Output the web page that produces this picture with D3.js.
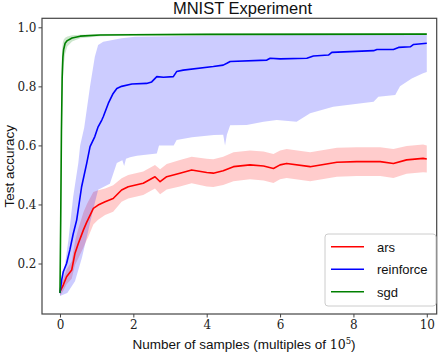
<!DOCTYPE html>
<html lang="en">
<head>
<meta charset="UTF-8">
<script src="https://d3js.org/d3.v7.min.js"></script>
<style>
  body { margin: 0; background: #fff; }
  svg { display: block; }
  .tick text { font-family: "DejaVu Serif", serif; font-size: 12px; fill: #222; }
  .tick line { stroke: #444; }
  .lab { font-family: "Liberation Sans", Arial, sans-serif; fill: #111; }
</style>
</head>
<body>
<script>
// values (x in multiples of 1e5 samples)
const xTicks = [0, 2, 4, 6, 8, 10];
const yTicks = [0.2, 0.4, 0.6, 0.8, 1.0];
const seriesNames = ["ars", "reinforce", "sgd"];
const seriesColors = ["#ff0000", "#0000ff", "#008000"];

const arsX = [0, 0.09, 0.18, 0.32, 0.41, 0.5, 0.64, 0.73, 0.77, 0.91, 1.04, 1.23, 1.45, 1.68, 1.86, 2.27, 2.59, 2.73, 2.91, 3.27, 3.59, 4.0, 4.18, 4.45, 4.73, 5.18, 5.55, 5.82, 6.0, 6.18, 6.82, 7.55, 8.09, 8.73, 9.09, 9.45, 9.9, 10];
const arsMean = [0.105, 0.127, 0.155, 0.178, 0.235, 0.268, 0.314, 0.34, 0.35, 0.387, 0.398, 0.409, 0.42, 0.449, 0.46, 0.472, 0.494, 0.477, 0.494, 0.506, 0.517, 0.508, 0.506, 0.514, 0.528, 0.534, 0.53, 0.522, 0.534, 0.539, 0.528, 0.543, 0.545, 0.545, 0.539, 0.551, 0.556, 0.554];
const arsHi = [0.12, 0.147, 0.18, 0.208, 0.275, 0.318, 0.374, 0.40, 0.41, 0.442, 0.448, 0.454, 0.465, 0.489, 0.50, 0.512, 0.534, 0.519, 0.537, 0.551, 0.562, 0.555, 0.553, 0.562, 0.577, 0.583, 0.579, 0.571, 0.583, 0.588, 0.577, 0.592, 0.594, 0.594, 0.588, 0.598, 0.603, 0.6];
const arsLo = [0.09, 0.107, 0.13, 0.148, 0.195, 0.218, 0.254, 0.28, 0.29, 0.332, 0.348, 0.364, 0.375, 0.409, 0.42, 0.432, 0.454, 0.435, 0.451, 0.461, 0.472, 0.461, 0.459, 0.466, 0.479, 0.485, 0.481, 0.473, 0.485, 0.49, 0.479, 0.494, 0.496, 0.496, 0.49, 0.504, 0.509, 0.508];

const reinforceX = [0, 0.046, 0.09, 0.18, 0.27, 0.36, 0.455, 0.59, 0.73, 0.82, 0.95, 1.04, 1.14, 1.18, 1.32, 1.45, 1.55, 1.68, 1.96, 2.36, 2.5, 2.64, 2.82, 3.09, 3.18, 3.36, 4.18, 4.45, 4.55, 4.64, 5.64, 5.73, 6.0, 6.73, 6.91, 7.32, 7.41, 8.55, 8.64, 9.09, 9.23, 9.55, 9.64, 10];
const reinforceMean = [0.1, 0.144, 0.172, 0.2, 0.246, 0.30, 0.347, 0.46, 0.54, 0.596, 0.63, 0.663, 0.686, 0.697, 0.743, 0.776, 0.793, 0.80, 0.808, 0.81, 0.815, 0.833, 0.831, 0.833, 0.85, 0.855, 0.867, 0.872, 0.878, 0.884, 0.889, 0.895, 0.893, 0.895, 0.903, 0.906, 0.915, 0.921, 0.925, 0.925, 0.932, 0.934, 0.942, 0.946];
const reinforceHiX = [0, 0.05, 0.14, 0.23, 0.27, 0.36, 0.5, 0.55, 0.66, 0.82, 0.95, 1.04, 1.18, 1.68, 2.05, 3, 4, 6.27, 8, 10];
const reinforceHi = [0.1, 0.13, 0.2, 0.28, 0.325, 0.426, 0.54, 0.6, 0.66, 0.8, 0.9, 0.94, 0.951, 0.963, 0.968, 0.97, 0.972, 0.974, 0.975, 0.976];
const reinforceLoX = [0, 0.2, 0.41, 0.6, 0.77, 0.9, 1.04, 1.2, 1.36, 1.55, 1.7, 1.75, 1.8, 1.91, 2.1, 2.64, 2.7, 3.1, 3.18, 3.6, 4.2, 4.45, 4.5, 4.55, 4.64, 5.09, 5.55, 5.91, 6.45, 6.82, 7.45, 8.55, 8.68, 9.14, 9.27, 9.59, 9.9, 10];
const reinforceLo = [0.09, 0.1, 0.14, 0.22, 0.31, 0.38, 0.45, 0.46, 0.47, 0.54, 0.55, 0.53, 0.555, 0.56, 0.565, 0.573, 0.6, 0.6, 0.618, 0.628, 0.635, 0.636, 0.6, 0.636, 0.668, 0.669, 0.68, 0.686, 0.68, 0.709, 0.731, 0.748, 0.765, 0.771, 0.8, 0.827, 0.844, 0.849];

const sgdX = [0, 0.02, 0.04, 0.06, 0.08, 0.1, 0.14, 0.2, 0.33, 0.55, 1.1, 2, 4, 10];
const sgdMean = [0.1, 0.35, 0.65, 0.83, 0.9, 0.925, 0.946, 0.955, 0.964, 0.97, 0.974, 0.975, 0.976, 0.977];
const sgdHi = [0.1, 0.55, 0.85, 0.93, 0.95, 0.958, 0.965, 0.969, 0.973, 0.975, 0.977, 0.978, 0.979, 0.98];
const sgdLo = [0.1, 0.2, 0.45, 0.7, 0.82, 0.87, 0.91, 0.935, 0.952, 0.963, 0.97, 0.972, 0.973, 0.974];

const W = 446, H = 354;
const plotL = 42, plotR = 436.7, plotT = 18.3, plotB = 314;

const svg = d3.select("body").append("svg")
  .attr("width", W)
  .attr("height", H);

const x = d3.scaleLinear().domain([-0.49, 10.27]).range([plotL, plotR]);
const y = d3.scaleLinear().domain([0.029, 1.0305]).range([plotB, plotT]);

const zip = (xs, ys) => xs.map((v, i) => [v, ys[i]]);
const line = d3.line().x(d => x(d[0])).y(d => y(d[1]));

// bands (upper edge forward, lower edge back)
const bands = [
  [zip(arsX, arsHi), zip(arsX, arsLo)],
  [zip(reinforceHiX, reinforceHi), zip(reinforceLoX, reinforceLo)],
  [zip(sgdX, sgdHi), zip(sgdX, sgdLo)]
];
bands.forEach((b, i) => {
  svg.append("path")
    .attr("d", line(b[0].concat(b[1].slice().reverse())) + "Z")
    .attr("fill", seriesColors[i])
    .attr("fill-opacity", 0.2)
    .attr("stroke", "none");
});

const means = [zip(arsX, arsMean), zip(reinforceX, reinforceMean), zip(sgdX, sgdMean)];
means.forEach((m, i) => {
  svg.append("path")
    .attr("d", line(m))
    .attr("fill", "none")
    .attr("stroke", seriesColors[i])
    .attr("stroke-width", 1.6)
    .attr("stroke-linejoin", "round");
});

// axes
const xAxis = svg.append("g")
  .attr("transform", `translate(0,${plotB})`)
  .call(d3.axisBottom(x).tickValues(xTicks).tickFormat(d3.format("d")).tickSize(3.5).tickPadding(3));
xAxis.select(".domain").remove();

const yAxis = svg.append("g")
  .attr("transform", `translate(${plotL},0)`)
  .call(d3.axisLeft(y).tickValues(yTicks).tickFormat(d3.format(".1f")).tickSize(3.5).tickPadding(2));
yAxis.select(".domain").remove();

svg.append("rect")
  .attr("x", plotL).attr("y", plotT)
  .attr("width", plotR - plotL).attr("height", plotB - plotT)
  .attr("fill", "none")
  .attr("stroke", "#444")
  .attr("stroke-width", 1.2);

// title and labels
svg.append("text")
  .attr("class", "lab")
  .attr("x", 242.5).attr("y", 14)
  .attr("text-anchor", "middle")
  .style("font-size", "16.5px")
  .text("MNIST Experiment");

svg.append("text")
  .attr("class", "lab")
  .attr("transform", `translate(14,${(plotT + plotB) / 2}) rotate(-90)`)
  .attr("text-anchor", "middle")
  .style("font-size", "13.5px")
  .text("Test accuracy");

const xl = svg.append("text")
  .attr("class", "lab")
  .attr("x", 244).attr("y", 349)
  .attr("text-anchor", "middle")
  .style("font-size", "13.5px");
xl.append("tspan").text("Number of samples (multiples of ");
xl.append("tspan").style("font-family", "DejaVu Serif, serif").style("font-size", "12.5px").text("10");
xl.append("tspan").style("font-family", "DejaVu Serif, serif").style("font-size", "8.5px").attr("dy", -5).text("5");
xl.append("tspan").attr("dy", 5).text(")");

// legend
const legend = svg.append("g");
legend.append("rect")
  .attr("x", 325).attr("y", 234)
  .attr("width", 111).attr("height", 72)
  .attr("rx", 3)
  .attr("fill", "#fff").attr("fill-opacity", 0.8)
  .attr("stroke", "#ccc");

seriesNames.forEach((name, i) => {
  const ly = 246.7 + i * 22.5;
  legend.append("line")
    .attr("x1", 331).attr("x2", 364)
    .attr("y1", ly).attr("y2", ly)
    .attr("stroke", seriesColors[i])
    .attr("stroke-width", 1.6);
  legend.append("text")
    .attr("class", "lab")
    .attr("x", 377).attr("y", ly + 4.8)
    .style("font-size", "13px")
    .text(name);
});
</script>
</body>
</html>
